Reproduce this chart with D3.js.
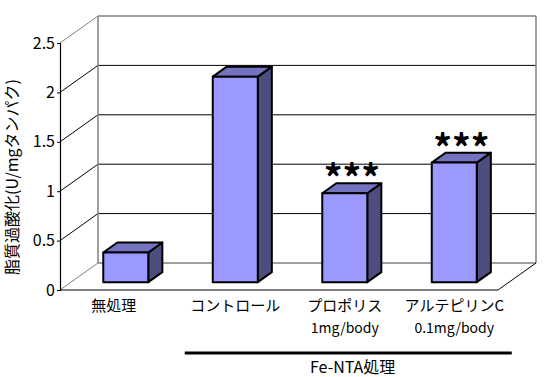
<!DOCTYPE html>
<html>
<head>
<meta charset="utf-8">
<script src="https://cdn.jsdelivr.net/npm/d3@7"></script>
<style>
  body { margin: 0; background: #fff; }
  text { font-family: "Noto Sans CJK JP", "DejaVu Sans", sans-serif; fill: #000; }
</style>
</head>
<body>
<div id="chart"></div>
<script>
const categories = ["無処理", "コントロール", "プロポリス", "アルテピリンC"];
const doses = ["", "", "1mg/body", "0.1mg/body"];
const values = [0.30, 2.08, 0.90, 1.21];
const marks = ["", "", "***", "***"];
const yTicks = [0, 0.5, 1, 1.5, 2, 2.5];
const groupLabel = "Fe-NTA処理";
const yLabel = "脂質過酸化(U/mgタンパク)";

const width = 552, height = 377;
const depthX = 38, depthY = 27;          // wall depth
const barFront = 0.29, barBack = 0.66;   // bar position inside the depth

const svg = d3.select("#chart")
    .append("svg")
    .attr("width", width)
    .attr("height", height);

const x = d3.scaleBand()
    .domain(categories)
    .range([60, 498])
    .paddingInner(0.589)
    .paddingOuter(0.2945);

const y = d3.scaleLinear()
    .domain([0, 2.5])
    .range([290, 43]);

const gray = "#808080";

// back wall + left wall grid
const grid = svg.append("g");
yTicks.forEach(v => {
    const edge = v === 0 || v === 2.5;
    const c = edge ? gray : "#000";
    grid.append("line")
        .attr("x1", 60 + depthX).attr("x2", 498 + depthX)
        .attr("y1", y(v) - depthY).attr("y2", y(v) - depthY)
        .attr("stroke", c).attr("stroke-width", edge ? 1.5 : 1);
    grid.append("line")
        .attr("x1", 60).attr("x2", 60 + depthX)
        .attr("y1", y(v)).attr("y2", y(v) - depthY)
        .attr("stroke", c).attr("stroke-width", 1);
});
// back wall verticals
[60 + depthX, 498 + depthX].forEach(px => {
    grid.append("line")
        .attr("x1", px).attr("x2", px)
        .attr("y1", y(2.5) - depthY).attr("y2", y(0) - depthY)
        .attr("stroke", gray).attr("stroke-width", 1.5);
});
// floor front edge + right diagonal
grid.append("line")
    .attr("x1", 60).attr("x2", 498)
    .attr("y1", y(0)).attr("y2", y(0))
    .attr("stroke", "#000").attr("stroke-width", 1.2);
grid.append("line")
    .attr("x1", 498).attr("x2", 498 + depthX)
    .attr("y1", y(0)).attr("y2", y(0) - depthY)
    .attr("stroke", "#000").attr("stroke-width", 1);

// y axis
svg.append("g")
    .attr("transform", "translate(60,0)")
    .call(d3.axisLeft(y).tickValues(yTicks).tickSize(3).tickFormat(d => d3.format("")(d)))
    .call(g => g.select(".domain").attr("stroke", "#000").attr("stroke-width", 1.2))
    .call(g => g.selectAll("line").attr("stroke", "#000"))
    .call(g => g.selectAll("text")
        .attr("font-size", 16)
        .attr("font-family", "'Liberation Sans', sans-serif")
        .attr("x", -5));

// bars
const fx = barFront * depthX, fy = barFront * depthY;
const bx = (barBack - barFront) * depthX, by = (barBack - barFront) * depthY;

const bars = svg.append("g")
    .selectAll("g")
    .data(categories)
    .enter()
    .append("g");

bars.each(function (d, i) {
    const g = d3.select(this);
    const x0 = x(d) + fx, x1 = x0 + x.bandwidth();
    const yb = y(0) - fy, yt = y(values[i]) - fy;
    const face = (pts, fill) => g.append("polygon")
        .attr("points", pts.map(q => q.join(",")).join(" "))
        .attr("fill", fill)
        .attr("stroke", "#000")
        .attr("stroke-width", 2)
        .attr("stroke-linejoin", "round");
    face([[x1, yb], [x1 + bx, yb - by], [x1 + bx, yt - by], [x1, yt]], "#4D4D80");
    face([[x0, yt], [x1, yt], [x1 + bx, yt - by], [x0 + bx, yt - by]], "#7373BF");
    face([[x0, yb], [x1, yb], [x1, yt], [x0, yt]], "#9999FF");

    if (marks[i]) {
        g.append("text")
            .attr("x", (x0 + x1 + bx) / 2)
            .attr("y", yt - 1)
            .attr("text-anchor", "middle")
            .attr("font-family", "'DejaVu Sans', sans-serif")
            .attr("font-weight", "bold")
            .attr("font-size", 37)
            .text(marks[i]);
    }
});

// category labels
const labels = svg.append("g");
categories.forEach((c, i) => {
    const cx = x(c) + fx + x.bandwidth() / 2;
    labels.append("text")
        .attr("x", i === 0 ? cx - 12 : cx)
        .attr("y", 311)
        .attr("text-anchor", "middle")
        .attr("font-size", 15)
        .text(c);
    if (doses[i]) {
        labels.append("text")
            .attr("x", cx)
            .attr("y", 333)
            .attr("text-anchor", "middle")
            .attr("font-size", 14)
            .text(doses[i]);
    }
});

// group bracket
svg.append("line")
    .attr("x1", x(categories[1]) - 17).attr("x2", x(categories[3]) + x.bandwidth() + 46)
    .attr("y1", 353).attr("y2", 353)
    .attr("stroke", "#000").attr("stroke-width", 3);
svg.append("text")
    .attr("x", 310)
    .attr("y", 373)
    .attr("font-size", 16)
    .text(groupLabel);

// y label
svg.append("text")
    .attr("transform", "translate(18,177) rotate(-90)")
    .attr("text-anchor", "middle")
    .attr("font-size", 16)
    .text(yLabel);
</script>
</body>
</html>
